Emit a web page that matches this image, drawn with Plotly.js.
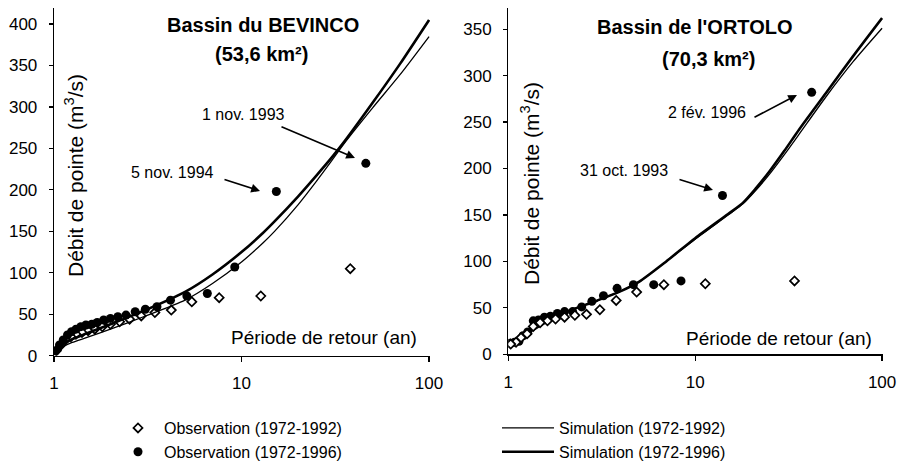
<!DOCTYPE html>
<html>
<head>
<meta charset="utf-8">
<script src="https://cdn.plot.ly/plotly-3.0.1.min.js"></script>
<style>html,body{margin:0;padding:0;background:#fff;}#chart{width:900px;height:464px;}</style>
</head>
<body>
<div id="chart"></div>
<script>
// ---- Bassin du BEVINCO (left) ----
const bevObs92T = [38, 12.67, 7.6, 5.43, 4.22, 3.45, 2.92, 2.53, 2.24, 2.0, 1.81, 1.65, 1.52, 1.41, 1.31, 1.23, 1.15, 1.09, 1.03];
const bevObs92Q = [105, 72, 70, 65, 55, 52, 48, 44, 41, 38, 35, 32, 30, 28, 26, 23, 19, 13, 6];
const bevObs96T = [46, 15.33, 9.2, 6.57, 5.11, 4.18, 3.54, 3.07, 2.71, 2.42, 2.19, 2.0, 1.84, 1.70, 1.59, 1.48, 1.39, 1.31, 1.24, 1.18, 1.12, 1.07, 1.02];
const bevObs96Q = [232, 198, 107, 75, 72, 67, 59, 56, 53, 49, 47, 45, 43, 40, 38, 37, 35, 32, 29, 25, 19, 13, 6];
const bevSimT = [1, 1.1, 1.25, 1.5, 2, 3, 5, 7, 10, 13, 15, 20, 25, 30, 35, 50, 70, 100];
const bevSim92Q = [3, 10, 16, 22, 32, 47, 67, 87, 113, 136, 150, 182, 210, 234, 255, 299, 339, 385];
const bevSim96Q = [3, 13, 20, 27, 38, 54, 77, 98, 125, 148, 162, 192, 217, 238, 257, 305, 352, 405];

// ---- Bassin de l'ORTOLO (right) ----
const ortObs92T = [34, 11.33, 6.8, 4.86, 3.78, 3.09, 2.62, 2.27, 2.0, 1.79, 1.62, 1.48, 1.36, 1.26, 1.17, 1.10, 1.03];
const ortObs92Q = [79, 76, 75, 67, 58, 48, 43, 42, 40, 38, 36, 34, 30, 22, 18, 13, 11];
const ortObs96T = [42, 14, 8.4, 6, 4.67, 3.82, 3.23, 2.8, 2.47, 2.21, 2.0, 1.83, 1.68, 1.56, 1.45, 1.36, 1.27, 1.2, 1.14, 1.08, 1.02];
const ortObs96Q = [282, 171, 79, 75, 75, 71, 63, 57, 51, 46, 46, 44, 41, 40, 37, 36, 24, 20, 14, 13, 12];
const ortSimT = [1, 1.1, 1.3, 1.67, 2, 3, 4, 5, 7, 10, 15, 18, 21, 25, 30, 36, 50, 70, 100];
const ortSim92Q = [12, 15, 24, 37, 45, 58, 68, 78, 100, 124, 150, 162, 176, 194, 215, 237, 277, 315, 351];
const ortSim96Q = [12, 15, 24, 37, 45, 58, 68, 78, 100, 125, 151, 163, 178, 197, 219, 242, 281, 321, 362];

const xTicks = [1, 10, 100];
const xTickText = ['1', '10', '100'];
const bevYTicks = [0, 50, 100, 150, 200, 250, 300, 350, 400];
const ortYTicks = [0, 50, 100, 150, 200, 250, 300, 350];

const legObs92 = 'Observation (1972-1992)';
const legObs96 = 'Observation (1972-1996)';
const legSim92 = 'Simulation (1972-1992)';
const legSim96 = 'Simulation (1972-1996)';

const FONT = '"Liberation Sans", Arial, sans-serif';
const W = 900, H = 464;
const px = v => v / W;
const py = v => 1 - v / H;

function sim92(x, y, xa, ya, show) {
  return {x: x, y: y, xaxis: xa, yaxis: ya, type: 'scatter', mode: 'lines', name: legSim92,
    line: {color: '#000', width: 1.3, shape: 'spline', smoothing: 0.7}, showlegend: show, legend: 'legend2'};
}
function sim96(x, y, xa, ya, show) {
  return {x: x, y: y, xaxis: xa, yaxis: ya, type: 'scatter', mode: 'lines', name: legSim96,
    line: {color: '#000', width: 2.6, shape: 'spline', smoothing: 0.7}, showlegend: show, legend: 'legend2'};
}
function obs96(x, y, xa, ya, show) {
  return {x: x, y: y, xaxis: xa, yaxis: ya, type: 'scatter', mode: 'markers', name: legObs96,
    marker: {symbol: 'circle', size: 9, color: '#000'}, showlegend: show, legend: 'legend'};
}
function obs92(x, y, xa, ya, show) {
  return {x: x, y: y, xaxis: xa, yaxis: ya, type: 'scatter', mode: 'markers', name: legObs92,
    marker: {symbol: 'diamond', size: 7, color: '#fff', line: {color: '#000', width: 1.7}}, showlegend: show, legend: 'legend'};
}

const data = [
  obs92(bevObs92T, bevObs92Q, 'x', 'y', true),
  obs96(bevObs96T, bevObs96Q, 'x', 'y', true),
  sim92(bevSimT, bevSim92Q, 'x', 'y', true),
  sim96(bevSimT, bevSim96Q, 'x', 'y', true),
  sim92(ortSimT, ortSim92Q, 'x2', 'y2', false),
  sim96(ortSimT, ortSim96Q, 'x2', 'y2', false),
  obs96(ortObs96T, ortObs96Q, 'x2', 'y2', false),
  obs92(ortObs92T, ortObs92Q, 'x2', 'y2', false)
];

function xAxis(dom, anchor) {
  return {type: 'log', domain: dom, range: [0, 2.005], anchor: anchor,
    tickvals: xTicks, ticktext: xTickText, ticks: 'outside', ticklen: 5, tickwidth: 1.2, tickcolor: '#000',
    showline: true, linecolor: '#000', linewidth: 1.3, showgrid: false, zeroline: false, automargin: false,
    ticklabelstandoff: 7, tickfont: {family: FONT, size: 17, color: '#000'}};
}
function yAxis(dom, range, ticks, anchor) {
  return {domain: dom, range: range, anchor: anchor, tickvals: ticks,
    ticks: 'outside', ticklen: 4, tickwidth: 1.2, tickcolor: '#000',
    showline: true, linecolor: '#000', linewidth: 1.3, showgrid: false, zeroline: false, automargin: false,
    ticklabelstandoff: 8, tickfont: {family: FONT, size: 17, color: '#000'}};
}

function txt(text, x, y, size, bold, angle) {
  return {text: bold ? '<b>' + text + '</b>' : text, xref: 'paper', yref: 'paper', x: px(x), y: py(y),
    xanchor: 'center', yanchor: 'middle', showarrow: false, textangle: angle || 0,
    font: {family: FONT, size: size, color: '#000'}};
}
function arrow(tx, ty, hx, hy) {
  return {text: '', xref: 'paper', yref: 'paper', x: px(hx), y: py(hy), ax: tx - hx, ay: ty - hy,
    showarrow: true, arrowhead: 2, arrowsize: 1.1, arrowwidth: 1.6, arrowcolor: '#000', standoff: 0, startstandoff: 0};
}

const layout = {
  width: W, height: H,
  margin: {l: 0, r: 0, t: 0, b: 0, autoexpand: false},
  paper_bgcolor: '#fff', plot_bgcolor: 'rgba(0,0,0,0)',
  font: {family: FONT, color: '#000'},
  xaxis: xAxis([px(54), px(430)], 'y'),
  yaxis: yAxis([py(355.7), py(8)], [0, 419.4], bevYTicks, 'x'),
  xaxis2: xAxis([px(508.3), px(883)], 'y2'),
  yaxis2: yAxis([py(354.3), py(8)], [0, 372.8], ortYTicks, 'x2'),
  legend: {x: px(112), y: py(411), xanchor: 'left', yanchor: 'top', orientation: 'v', itemwidth: 42,
    bgcolor: 'rgba(0,0,0,0)', borderwidth: 0, font: {family: FONT, size: 16, color: '#000'}, traceorder: 'normal'},
  legend2: {x: px(497), y: py(411), xanchor: 'left', yanchor: 'top', orientation: 'v', itemwidth: 52,
    bgcolor: 'rgba(0,0,0,0)', borderwidth: 0, font: {family: FONT, size: 16, color: '#000'}, traceorder: 'normal'},
  annotations: [
    txt('Bassin du BEVINCO', 263, 25, 20, true),
    txt('(53,6 km²)', 261, 54, 20, true),
    txt("Bassin de l'ORTOLO", 695, 27, 20, true),
    txt('(70,3 km²)', 708, 59, 20, true),
    txt('Débit de pointe (m<sup>3</sup>/s)', 74, 176, 21, false, -90),
    txt('Débit de pointe (m<sup>3</sup>/s)', 530, 184, 21, false, -90),
    txt('Période de retour (an)', 324, 337, 19, false),
    txt('Période de retour (an)', 779, 338, 19, false),
    txt('1 nov. 1993', 243, 114, 16, false),
    txt('5 nov. 1994', 172, 172, 16, false),
    txt('2 fév. 1996', 707, 113, 16, false),
    txt('31 oct. 1993', 624, 170, 16, false),
    arrow(280, 126, 355, 158),
    arrow(223, 179, 260, 191),
    arrow(753, 118, 797, 95),
    arrow(678, 179, 713, 190)
  ]
};

Plotly.newPlot('chart', data, layout, {staticPlot: true, displayModeBar: false});
</script>
</body>
</html>
